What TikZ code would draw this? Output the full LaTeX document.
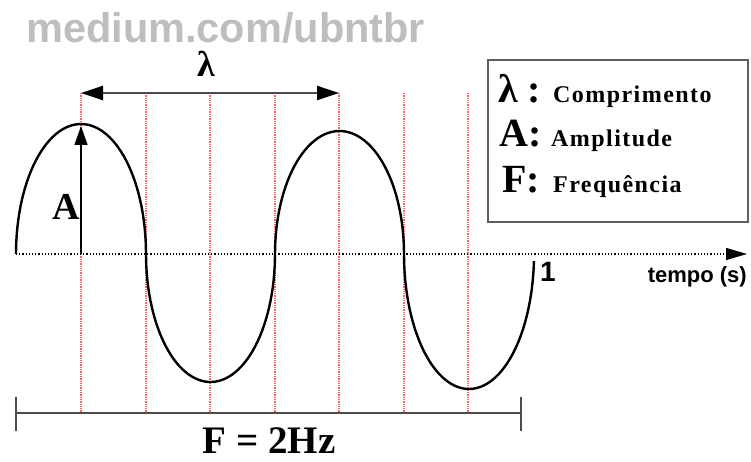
\documentclass[tikz,border=0pt]{standalone}
\usepackage{fontspec}
\setmainfont{Liberation Serif}
\setsansfont{Liberation Sans}
\usetikzlibrary{arrows.meta,positioning}
\definecolor{markgray}{RGB}{190,190,190}
\definecolor{gridred}{RGB}{255,95,95}
\definecolor{bargray}{RGB}{75,75,75}
\definecolor{boxgray}{RGB}{95,95,95}
\newcommand{\fsz}[1]{\fontsize{#1}{#1}\selectfont}

\begin{document}
\begin{tikzpicture}[
  x=1pt, y=-1pt,
  wave/.style={line width=2.4pt, black},
  gridline/.style={gridred, densely dotted, line width=1.3pt},
  axisline/.style={black, dotted, line width=1.2pt},
  dimline/.style={bargray, line width=2.4pt},
  symtxt/.style={inner sep=0pt, font=\bfseries\fsz{40}},
  wordtxt/.style={inner sep=0pt, anchor=base west, font=\bfseries\fsz{24}\addfontfeature{LetterSpace=6}},
  sanstxt/.style={inner sep=0pt, font=\sffamily\bfseries},
  legendbox/.style={draw=boxgray, line width=2pt, minimum width=260pt, minimum height=162pt, inner sep=0pt},
  >={Triangle[length=22pt, width=14pt, black]}
]
  \useasboundingbox (0,0) rectangle (751,462);

  % watermark
  \node[sanstxt, markgray, font=\sffamily\bfseries\fsz{41.5}, anchor=west] (mark) at (26,28) {medium.com/ubntbr};

  % reference lines
  \foreach \gx in {81,146,210,275,339,404,468}
    \draw[gridline] (\gx,93) -- (\gx,413);

  % time axis
  \coordinate (origin) at (16,254);
  \coordinate (axisend) at (747,254);
  \draw[axisline, -{Triangle[length=21pt, width=12pt]}] (origin) -- (axisend);

  % wave
  \draw[wave]
    plot[domain=180:0, samples=60, variable=\t] ({81+65*cos(\t)}, {254-130*sin(\t)})
    -- plot[domain=180:360, samples=60, variable=\t] ({210.5+64.5*cos(\t)}, {254-128*sin(\t)})
    -- plot[domain=180:0, samples=60, variable=\t] ({339.5+64.5*cos(\t)}, {254-123*sin(\t)})
    -- plot[domain=180:357, samples=60, variable=\t] ({469+65*cos(\t)}, {254-135*sin(\t)});

  % amplitude
  \coordinate (base1) at (81,254);
  \coordinate (peak1) at (81,126);
  \draw[line width=1.4pt, -{Triangle[length=19pt, width=13pt]}] (base1) -- (peak1);
  \node[symtxt, font=\bfseries\fsz{38}, anchor=base east] (amp) at (80,219) {A};

  % wavelength
  \coordinate (lamstart) at (81,93);
  \coordinate (lamend) at (339,93);
  \draw[dimline, <->] (lamstart) -- (lamend);
  \node[symtxt, font=\bfseries\fsz{36}] (lam) at (206,64) {λ};

  % axis labels
  \node[sanstxt, font=\sffamily\bfseries\fsz{28}, anchor=base west] (one) at (540,281) {1};
  \node[sanstxt, font=\sffamily\bfseries\fsz{22}, anchor=base east] (tempo) at (747,282) {tempo (s)};

  % one second
  \coordinate (barL) at (16,413);
  \coordinate (barR) at (521,413);
  \draw[dimline] (barL) -- (barR);
  \draw[dimline] (16,397) -- (16,431);
  \draw[dimline] (521,397) -- (521,431);
  \node[symtxt, font=\bfseries\fsz{39}, anchor=base] (freq) at (269,453) {F = 2Hz};

  % legend
  \node[legendbox] (legend) at (618,141) {};
  \node[symtxt, anchor=base west] (symL) at (498,103) {λ :};
  \node[wordtxt] (wordL) at (553,103) {Comprimento};
  \node[symtxt, anchor=base west] (symA) at (499,147) {A:};
  \node[wordtxt] (wordA) at (551,147) {Amplitude};
  \node[symtxt, anchor=base west] (symF) at (502,193) {F:};
  \node[wordtxt] (wordF) at (553,193) {Frequência};
\end{tikzpicture}
\end{document}
